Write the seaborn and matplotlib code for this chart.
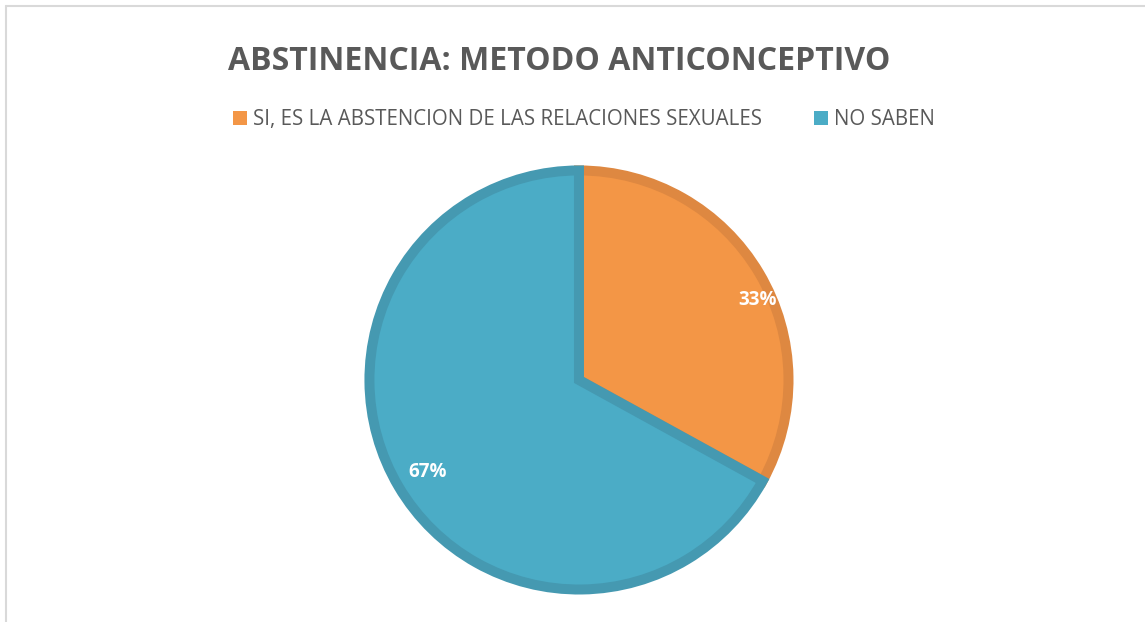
import matplotlib.pyplot as plt
import seaborn as sns
from matplotlib.lines import Line2D
from matplotlib.patches import Patch

categories = ['SI, ES LA ABSTENCION DE LAS RELACIONES SEXUALES', 'NO SABEN']
values = [33, 67]
pct_labels = ['33%', '67%']
colors = ['#F39646', '#4BACC6']
edge_colors = ['#DE8841', '#4599B1']

sns.set_theme(style='white')
plt.rcParams['font.family'] = ['Open Sans', 'DejaVu Sans']

fig = plt.figure(figsize=(11.45, 6.22), dpi=100)
ax = fig.add_axes([0.3135, 0.0354, 0.3843, 0.7074])

wedges, _ = ax.pie(values, colors=colors, startangle=90, counterclock=False,
                   wedgeprops={'linewidth': 7.2, 'joinstyle': 'miter'})
for w, ec in zip(wedges, edge_colors):
    w.set_edgecolor(ec)
ax.set_xlim(-1.05, 1.05)
ax.set_ylim(-1.05, 1.05)
ax.set_aspect('equal')
ax.axis('off')

# data labels (best-fit-like placement)
label_pos = [(0.85, 0.38), (-0.72, -0.44)]
for (x, y), txt in zip(label_pos, pct_labels):
    ax.text(x, y, txt, ha='center', va='center', color='white',
            fontsize=13.5, fontweight='bold')

fig.text(0.488, 0.901, 'ABSTINENCIA: METODO ANTICONCEPTIVO', ha='center', va='center',
         fontsize=23, fontweight='bold', color='#595959')

handles = [Patch(facecolor=c, edgecolor='none') for c in colors]
leg = fig.legend(handles, categories, loc='center', bbox_to_anchor=(0.51, 0.808),
                 ncol=2, frameon=False, fontsize=14.8, handlelength=0.7, handleheight=0.7,
                 handletextpad=0.3, columnspacing=2.5)
for t in leg.get_texts():
    t.set_color('#595959')

fig.add_artist(Line2D([6/1145, 1], [1-6/622, 1-6/622], color='#D9D9D9', lw=1.5))
fig.add_artist(Line2D([6/1145, 6/1145], [0, 1-6/622], color='#D9D9D9', lw=1.5))

fig.savefig('out.png', dpi=100, facecolor='white')
